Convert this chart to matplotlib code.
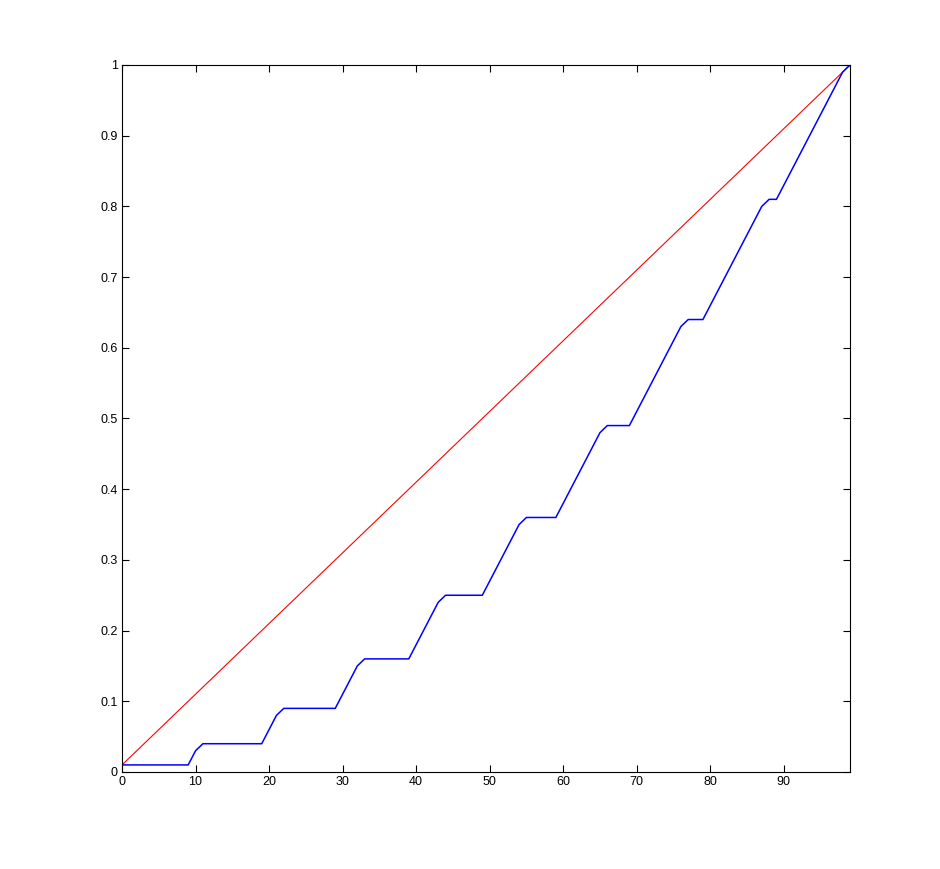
import numpy as np
import matplotlib
matplotlib.use("Agg")
import matplotlib.pyplot as plt

plt.rcParams['font.family'] = ['Liberation Sans', 'DejaVu Sans']

# x positions 0..99
x_vals = list(range(100))

# equality line
red_vals = [round(0.01 * (i + 1), 2) for i in range(100)]

# cumulative curve
blue_vals = [
    0.01, 0.01, 0.01, 0.01, 0.01, 0.01, 0.01, 0.01, 0.01, 0.01,
    0.03, 0.04, 0.04, 0.04, 0.04, 0.04, 0.04, 0.04, 0.04, 0.04,
    0.06, 0.08, 0.09, 0.09, 0.09, 0.09, 0.09, 0.09, 0.09, 0.09,
    0.11, 0.13, 0.15, 0.16, 0.16, 0.16, 0.16, 0.16, 0.16, 0.16,
    0.18, 0.20, 0.22, 0.24, 0.25, 0.25, 0.25, 0.25, 0.25, 0.25,
    0.27, 0.29, 0.31, 0.33, 0.35, 0.36, 0.36, 0.36, 0.36, 0.36,
    0.38, 0.40, 0.42, 0.44, 0.46, 0.48, 0.49, 0.49, 0.49, 0.49,
    0.51, 0.53, 0.55, 0.57, 0.59, 0.61, 0.63, 0.64, 0.64, 0.64,
    0.66, 0.68, 0.70, 0.72, 0.74, 0.76, 0.78, 0.80, 0.81, 0.81,
    0.83, 0.85, 0.87, 0.89, 0.91, 0.93, 0.95, 0.97, 0.99, 1.00,
]

x_ticks = [0, 10, 20, 30, 40, 50, 60, 70, 80, 90]
y_ticks = [0, 0.1, 0.2, 0.3, 0.4, 0.5, 0.6, 0.7, 0.8, 0.9, 1]
y_tick_labels = ['0', '0.1', '0.2', '0.3', '0.4', '0.5', '0.6', '0.7', '0.8', '0.9', '1']

fig = plt.figure(figsize=(9.4, 8.69), dpi=100)
ax = fig.add_axes([122 / 940, 1 - 772 / 869, (850 - 122) / 940, (772 - 65) / 869])

ax.plot(x_vals, red_vals, color='#ff0000', linewidth=0.8)
ax.plot(x_vals, blue_vals, color='#0000ff', linewidth=1.1)

ax.set_xlim(0, 99)
ax.set_ylim(0, 1)
ax.set_xticks(x_ticks)
ax.set_yticks(y_ticks)
ax.set_yticklabels(y_tick_labels)
ax.tick_params(direction='in', length=5, width=0.8, top=True, right=True,
               labelsize=9, pad=3)
for s in ax.spines.values():
    s.set_linewidth(0.8)

fig.savefig('out.png', dpi=100)
